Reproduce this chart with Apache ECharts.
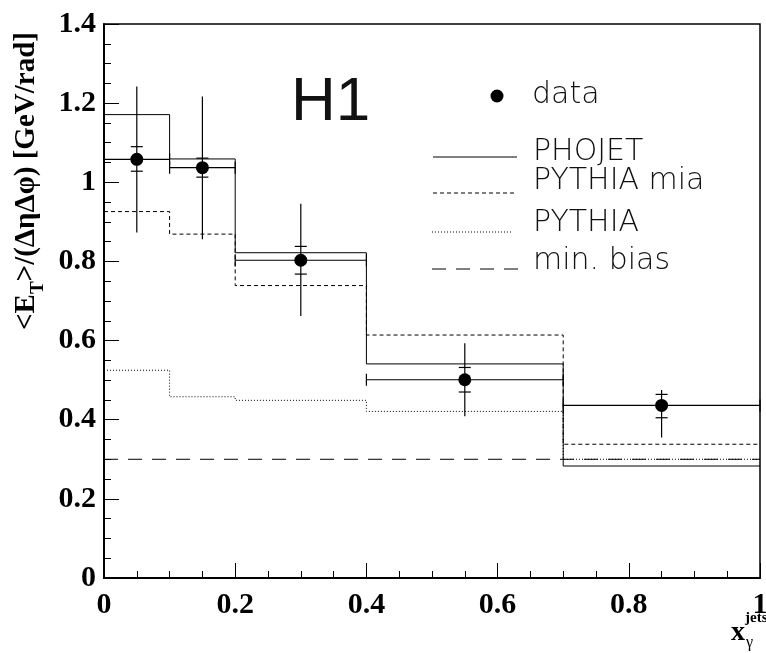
<!DOCTYPE html>
<html>
<head>
<meta charset="utf-8">
<script src="https://cdn.jsdelivr.net/npm/echarts@6/dist/echarts.min.js"></script>
<style>
  html, body { margin: 0; padding: 0; background: #fff; }
  #chart { width: 766px; height: 653px; }
</style>
</head>
<body>
<div id="chart"></div>
<script>
// bin edges of x_gamma^jets
const binEdges = [0, 0.1, 0.2, 0.4, 0.7, 1.0]
// data points (bin centre, value, stat and total error ends)
const dataX = [0.05, 0.15, 0.3, 0.55, 0.85]
const dataY = [1.058, 1.037, 0.803, 0.501, 0.436]
const statLo = [1.028, 1.013, 0.768, 0.470, 0.405]
const statHi = [1.090, 1.061, 0.838, 0.532, 0.464]
const totLo = [0.873, 0.856, 0.662, 0.409, 0.355]
const totHi = [1.242, 1.217, 0.946, 0.593, 0.475]
// model histograms, one value per bin
const phojet = [1.171, 1.059, 0.822, 0.541, 0.283]
const pythiaMia = [0.926, 0.869, 0.739, 0.614, 0.338]
const pythia = [0.525, 0.458, 0.449, 0.421, 0.300]
const minBias = [0.3, 0.3, 0.3, 0.3, 0.3]
// axis ticks
const xTicks = [0, 0.2, 0.4, 0.6, 0.8, 1]
const yTicks = [0, 0.2, 0.4, 0.6, 0.8, 1, 1.2, 1.4]

// histogram -> step points
const steps = (vals) => {
  const pts = vals.map((v, i) => [binEdges[i], v])
  pts.push([binEdges[binEdges.length - 1], vals[vals.length - 1]])
  return pts
}

const dataPts = dataX.map((x, i) => [x, dataY[i], binEdges[i], binEdges[i + 1], statLo[i], statHi[i], totLo[i], totHi[i]])

const tickFont = { fontFamily: 'Liberation Serif', fontWeight: 'bold', fontSize: 30, color: '#000' }
const legFont = '200 30px "DejaVu Sans"'

const histLine = (name, vals, type) => ({
  name: name,
  type: 'line',
  step: 'end',
  symbol: 'none',
  data: steps(vals),
  lineStyle: { color: '#000', width: 1, type: type },
  z: 2
})

const myChart = echarts.init(document.getElementById('chart'))
const option = {
  animation: false,
  backgroundColor: '#fff',
  grid: {
    left: 104, top: 24, width: 656, height: 554,
    outerBoundsMode: 'none', containLabel: false,
    show: true, borderColor: '#000', borderWidth: 1.5
  },
  xAxis: {
    type: 'value', min: 0, max: 1, interval: 0.2,
    axisLine: { lineStyle: { color: '#000', width: 2 } },
    axisTick: { inside: true, length: 15, lineStyle: { color: '#000', width: 1 } },
    minorTick: { show: true, splitNumber: 4, length: 7, lineStyle: { color: '#000', width: 1 } },
    splitLine: { show: false },
    axisLabel: Object.assign({ margin: 12, formatter: (v) => (xTicks.includes(v) ? String(v) : '') }, tickFont)
  },
  yAxis: {
    type: 'value', min: 0, max: 1.4, interval: 0.2,
    axisLine: { lineStyle: { color: '#000', width: 2 } },
    axisTick: { inside: true, length: 15, lineStyle: { color: '#000', width: 1 } },
    minorTick: { show: true, splitNumber: 4, length: 7, lineStyle: { color: '#000', width: 1 } },
    splitLine: { show: false },
    axisLabel: Object.assign({ margin: 8, formatter: (v) => { const t = yTicks.find(k => Math.abs(k - v) < 1e-6); return t === undefined ? '' : String(t) } }, tickFont)
  },
  series: [
    histLine('min. bias', minBias, [14, 10]),
    histLine('PYTHIA', pythia, [1, 2]),
    histLine('PYTHIA mia', pythiaMia, [4, 3]),
    histLine('PHOJET', phojet, 'solid'),
    {
      name: 'data-err',
      type: 'custom',
      data: dataPts,
      z: 3,
      renderItem: function (params, api) {
        const x = api.value(0), y = api.value(1)
        const p = api.coord([x, y])
        const l = api.coord([api.value(2), y])
        const r = api.coord([api.value(3), y])
        const sLo = api.coord([x, api.value(4)])
        const sHi = api.coord([x, api.value(5)])
        const tLo = api.coord([x, api.value(6)])
        const tHi = api.coord([x, api.value(7)])
        const st = { stroke: '#000', lineWidth: 1.2 }
        const seg = (x1, y1, x2, y2) => ({ type: 'line', shape: { x1: x1, y1: y1, x2: x2, y2: y2 }, style: st })
        return {
          type: 'group',
          children: [
            seg(l[0], p[1], r[0], p[1]),
            seg(l[0], p[1] - 6, l[0], p[1] + 6),
            seg(r[0], p[1] - 6, r[0], p[1] + 6),
            seg(p[0], tHi[1], p[0], tLo[1]),
            seg(p[0] - 6, sHi[1], p[0] + 6, sHi[1]),
            seg(p[0] - 6, sLo[1], p[0] + 6, sLo[1])
          ]
        }
      }
    },
    {
      name: 'data',
      type: 'scatter',
      data: dataX.map((x, i) => [x, dataY[i]]),
      symbol: 'circle',
      symbolSize: 13,
      itemStyle: { color: '#000', opacity: 1 },
      z: 4
    }
  ],
  graphic: [
    // H1 label
    { type: 'text', x: 291, y: 103, style: { text: 'H1', font: '62px "Liberation Sans Narrow", "Liberation Sans"', fill: '#111', verticalAlign: 'middle' } },
    // legend
    { type: 'circle', shape: { cx: 497, cy: 96, r: 6.5 }, style: { fill: '#000' } },
    { type: 'text', x: 532, y: 95, style: { text: 'data', font: legFont, fill: '#111', verticalAlign: 'middle' } },
    { type: 'line', shape: { x1: 433, y1: 157, x2: 517, y2: 157 }, style: { stroke: '#000', lineWidth: 1 } },
    { type: 'text', x: 533, y: 152, style: { text: 'PHOJET', font: legFont, fill: '#111', verticalAlign: 'middle' } },
    { type: 'line', shape: { x1: 433, y1: 193, x2: 517, y2: 193 }, style: { stroke: '#000', lineWidth: 1, lineDash: [4, 3] } },
    { type: 'text', x: 533, y: 181, style: { text: 'PYTHIA mia', font: legFont, fill: '#111', verticalAlign: 'middle' } },
    { type: 'line', shape: { x1: 432, y1: 232, x2: 512, y2: 232 }, style: { stroke: '#000', lineWidth: 1, lineDash: [1, 2] } },
    { type: 'text', x: 533, y: 223, style: { text: 'PYTHIA', font: legFont, fill: '#111', verticalAlign: 'middle' } },
    { type: 'line', shape: { x1: 432, y1: 269, x2: 519, y2: 269 }, style: { stroke: '#000', lineWidth: 1, lineDash: [14, 10] } },
    { type: 'text', x: 533, y: 261, style: { text: 'min. bias', font: legFont, fill: '#111', verticalAlign: 'middle' } },
    // y axis title
    {
      type: 'text', x: 30, y: 181, rotation: Math.PI / 2,
      style: {
        text: '{a|<E}{s|T}{a|>/(ΔηΔφ) [GeV/rad]}',
        align: 'center', verticalAlign: 'middle', fill: '#000',
        rich: {
          a: { fontFamily: 'Liberation Serif', fontWeight: 'bold', fontSize: 29, lineHeight: 29, verticalAlign: 'top' },
          s: { fontFamily: 'Liberation Serif', fontWeight: 'bold', fontSize: 19, lineHeight: 35, verticalAlign: 'bottom' }
        }
      }
    },
    // x axis title
    { type: 'text', x: 731, y: 633, style: { text: 'x', font: 'bold 28px "Liberation Serif"', fill: '#000', verticalAlign: 'middle' } },
    { type: 'text', x: 745, y: 618, style: { text: 'jets', font: 'bold 15px "Liberation Serif"', fill: '#000', verticalAlign: 'middle' } },
    { type: 'text', x: 746, y: 643, style: { text: 'γ', font: '16px "Liberation Serif"', fill: '#000', verticalAlign: 'middle' } }
  ]
}
myChart.setOption(option)
</script>
</body>
</html>
